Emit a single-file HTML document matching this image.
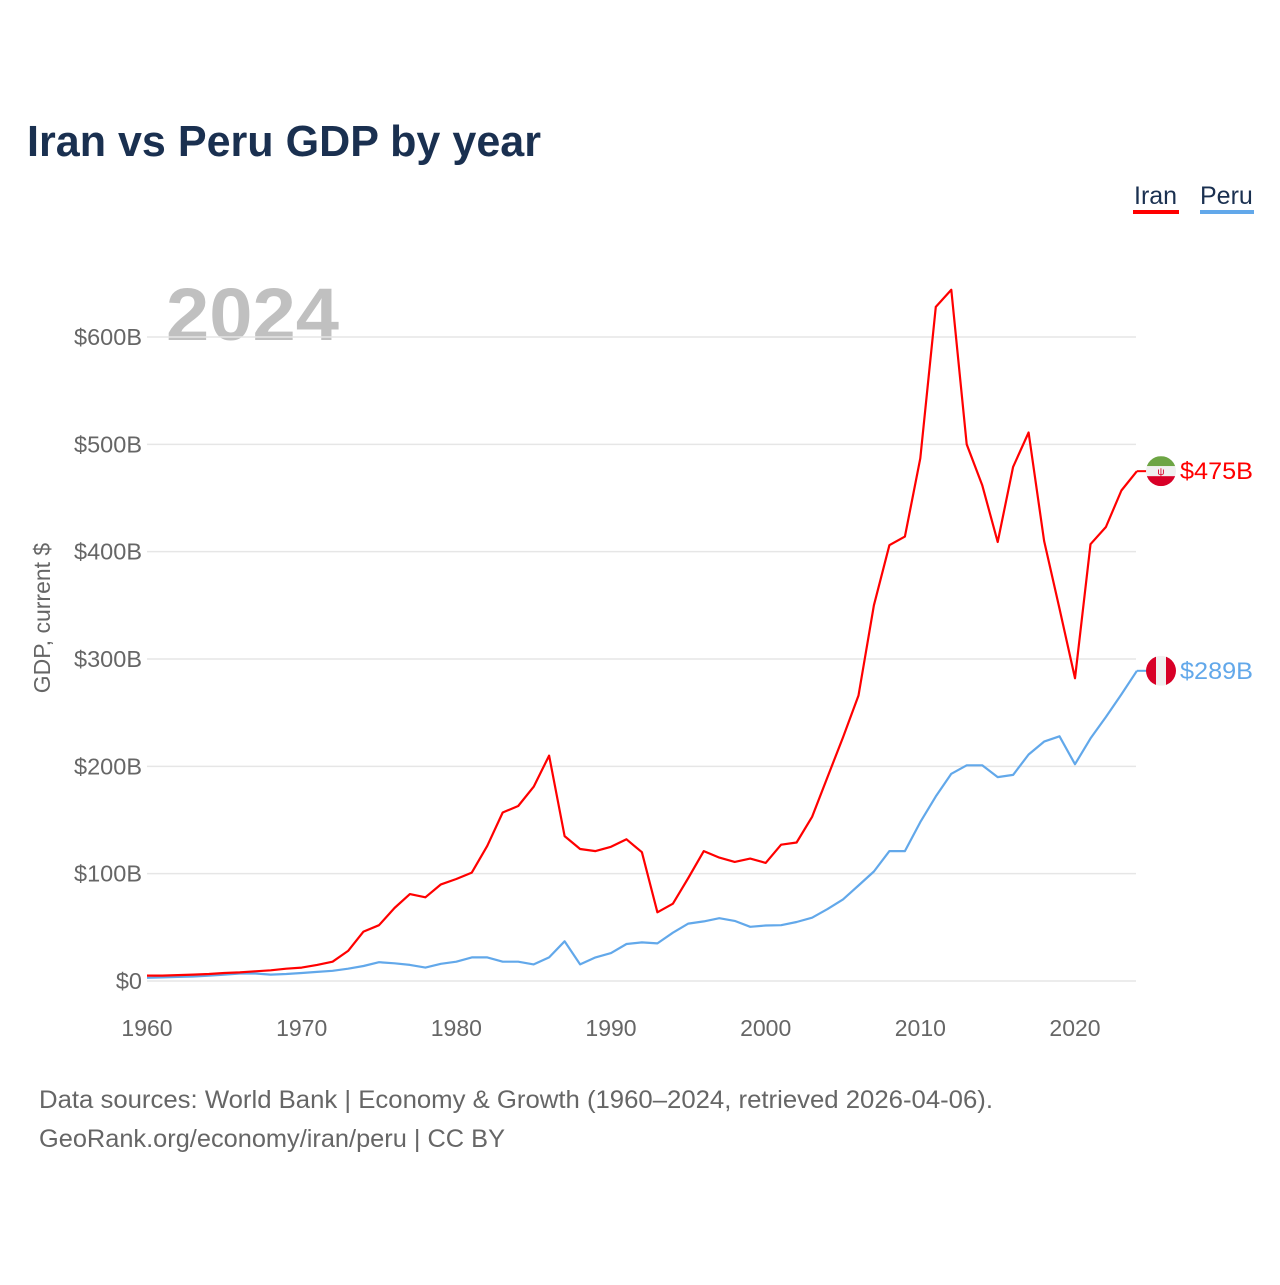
<!DOCTYPE html>
<html><head><meta charset="utf-8"><style>
html,body{margin:0;padding:0;background:#fff;}
body{width:1280px;height:1280px;overflow:hidden;font-family:"Liberation Sans",sans-serif;}
</style></head><body>
<svg id="chart" width="1280" height="1280" xmlns="http://www.w3.org/2000/svg" font-family="Liberation Sans, sans-serif">
<text x="27" y="156" font-size="44" font-weight="bold" fill="#1a3050" textLength="514" lengthAdjust="spacingAndGlyphs">Iran vs Peru GDP by year</text>
<g>
<text x="1134" y="204" font-size="25" fill="#1a3050">Iran</text>
<rect x="1133" y="210" width="46" height="4" fill="#ff0000"/>
<text x="1200" y="204" font-size="25" fill="#1a3050">Peru</text>
<rect x="1200" y="210" width="54" height="4" fill="#62a8ea"/>
</g>
<text x="166" y="340" font-size="74" font-weight="bold" fill="#c0c0c0" textLength="173" lengthAdjust="spacingAndGlyphs">2024</text>
<text transform="translate(50,618) rotate(-90)" text-anchor="middle" font-size="23" fill="#666">GDP, current $</text>
<g id="grid"></g><g id="yticks"></g><g id="xticks"></g><g id="lines"></g><g id="ends"></g>
<text x="39" y="1108" font-size="25" fill="#666" textLength="954" lengthAdjust="spacingAndGlyphs">Data sources: World Bank | Economy &amp; Growth (1960–2024, retrieved 2026-04-06).</text>
<text x="39" y="1147" font-size="25" fill="#666" textLength="466" lengthAdjust="spacingAndGlyphs">GeoRank.org/economy/iran/peru | CC BY</text>
</svg>
<script>
const years = [];
for (let y = 1960; y <= 2024; y++) years.push(y);
const iranGDP = [5,5,5.5,6,6.5,7.5,8,9,10,11.5,12.5,15,18,28,46,52,68,81,78,90,95,101,126,157,163,181,210,135,123,121,125,132,120,64,72,96,121,115,111,114,110,127,129,153,190,227,266,350,406,414,487,628,644,500,462,409,479,511,410,347,282,407,423,457,475];
const peruGDP = [3,3.4,3.8,4.2,5,6,7,7,6,6.5,7.5,8.5,9.5,11.5,14,17.5,16.5,15,12.5,16,18,22,22,18,18,15.5,22,37,15.5,22,26,34.5,36,35,45,53.5,55.5,58.5,56,50.5,51.7,52,55,59,67,76,89,102,121,121,148,172,193,201,201,190,192,211,223,228,202,226,246,267,289];
const yTicks = [0,100,200,300,400,500,600];
const yTickLabels = ["$0","$100B","$200B","$300B","$400B","$500B","$600B"];
const xTicks = [1960,1970,1980,1990,2000,2010,2020];
const endLabels = ["$475B","$289B"];

const NS = "http://www.w3.org/2000/svg";
const X = yr => 147 + (yr - 1960) * (928 / 60);
const Y = v => 981 - v * (644 / 600);
function mk(tag, attrs, parent) {
  const e = document.createElementNS(NS, tag);
  for (const k in attrs) e.setAttribute(k, attrs[k]);
  document.getElementById(parent).appendChild(e);
  return e;
}
yTicks.forEach((v, i) => {
  const l = mk("line", {x1: 147, x2: 1136, y1: Y(v), y2: Y(v), stroke: "#e6e6e6", "stroke-width": 1.5}, "grid");
  
  
  const t = mk("text", {x: 142, y: Y(v) + 8, "text-anchor": "end", "font-size": 23.5, fill: "#666"}, "yticks");
  
  
  t.textContent = yTickLabels[i];
});
xTicks.forEach(yr => {
  const t = mk("text", {x: X(yr), y: 1036, "text-anchor": "middle", "font-size": 23, fill: "#666"}, "xticks");
  
  
  t.textContent = yr;
});
function drawLine(vals, color, name) {
  const d = vals.map((v, i) => (i ? "L" : "M") + X(years[i]).toFixed(1) + " " + Y(v).toFixed(1)).join(" ");
  const p = mk("path", {d: d, fill: "none", stroke: color, "stroke-width": 2.2, "stroke-linejoin": "round"}, "lines");
  
  
}
drawLine(peruGDP, "#62a8ea", "peru-line");
drawLine(iranGDP, "#ff0000", "iran-line");

function endMarker(vals, color, label, name, flag) {
  const v = vals[vals.length - 1];
  const x0 = X(years[years.length - 1]), y0 = Y(v), cx = 1161;
  const ln = mk("line", {x1: x0, x2: cx - 14, y1: y0, y2: y0, stroke: color, "stroke-width": 2}, "ends");
  
  
  const g = mk("g", {}, "ends");
  
  
  const cid = "clip-" + name;
  const cp = document.createElementNS(NS, "clipPath"); cp.setAttribute("id", cid);
  const cc = document.createElementNS(NS, "circle");
  cc.setAttribute("cx", cx); cc.setAttribute("cy", y0); cc.setAttribute("r", 15);
  cp.appendChild(cc); g.appendChild(cp);
  const gg = document.createElementNS(NS, "g"); gg.setAttribute("clip-path", "url(#" + cid + ")"); g.appendChild(gg);
  const r = (x, y, w, h, f) => { const e = document.createElementNS(NS, "rect"); e.setAttribute("x", x); e.setAttribute("y", y); e.setAttribute("width", w); e.setAttribute("height", h); e.setAttribute("fill", f); gg.appendChild(e); };
  if (flag === "iran") {
    r(cx - 15, y0 - 15, 30, 10, "#6da544"); r(cx - 15, y0 - 5, 30, 10, "#f0f0f0"); r(cx - 15, y0 + 5, 30, 10, "#d80027");
    const e = document.createElementNS(NS, "text"); e.setAttribute("x", cx); e.setAttribute("y", y0 + 4); e.setAttribute("text-anchor", "middle"); e.setAttribute("font-size", 10); e.setAttribute("fill", "#d80027"); e.textContent = "ψ"; gg.appendChild(e);
  } else {
    r(cx - 15, y0 - 15, 10, 30, "#d80027"); r(cx - 5, y0 - 15, 10, 30, "#f0f0f0"); r(cx + 5, y0 - 15, 10, 30, "#d80027");
  }
  const t = mk("text", {x: 1180, y: y0 + 8, "font-size": 24, fill: color, textLength: 73, lengthAdjust: "spacingAndGlyphs"}, "ends");
  
  
  t.textContent = label;
}
endMarker(iranGDP, "#ff0000", endLabels[0], "iran", "iran");
endMarker(peruGDP, "#62a8ea", endLabels[1], "peru", "peru");
</script>
</body></html>
